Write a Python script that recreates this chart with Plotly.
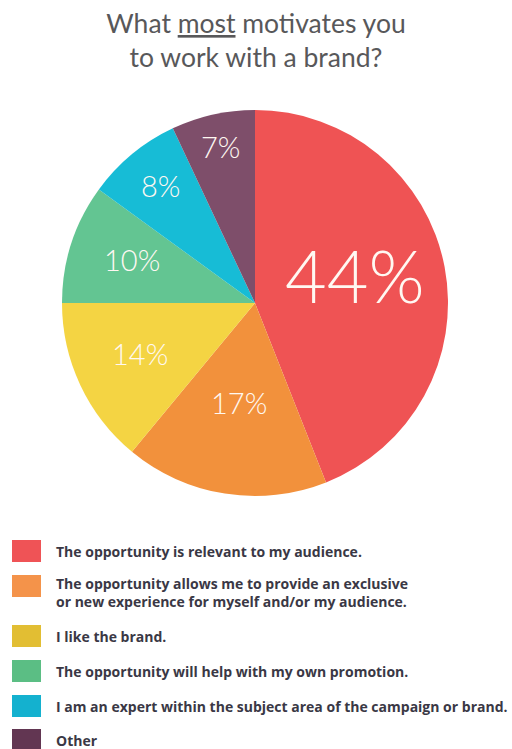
import math
import plotly.graph_objects as go

# Survey answers and their shares (%)
answers = [
    "The opportunity is relevant to my audience.",
    "The opportunity allows me to provide an exclusive<br>or new experience for myself and/or my audience.",
    "I like the brand.",
    "The opportunity will help with my own promotion.",
    "I am an expert within the subject area of the campaign or brand.",
    "Other",
]
shares = [44, 17, 14, 10, 8, 7]

slice_colors = ["#EF5354", "#F2913C", "#F4D443", "#63C592", "#17BCD6", "#7E4E6A"]
legend_colors = ["#EF5356", "#F4934A", "#E2BE33", "#5BBE84", "#14B1CF", "#623652"]
label_sizes = [72, 29, 29, 29, 29, 29]
label_radius = [0.53, 0.54, 0.66, 0.67, 0.77, 0.81]  # fraction of pie radius

W, H = 512, 749
cx, cy, r = 255, 303, 193

fig = go.Figure(
    go.Pie(
        labels=answers,
        values=shares,
        sort=False,
        direction="clockwise",
        rotation=0,
        marker=dict(colors=slice_colors, line=dict(width=0)),
        textinfo="none",
        hoverinfo="label+percent",
        showlegend=False,
        domain=dict(x=[(cx - r) / W, (cx + r) / W], y=[1 - (cy + r) / H, 1 - (cy - r) / H]),
    )
)

annotations = []

# Percentage labels placed along each slice's bisector
total = sum(shares)
start = 0.0
for v, fs, fr in zip(shares, label_sizes, label_radius):
    mid = math.radians((start + v / 2) / total * 360)
    start += v
    px = cx + fr * r * math.sin(mid)
    py = cy - fr * r * math.cos(mid)
    annotations.append(dict(
        text=f"{v}%", xref="paper", yref="paper",
        x=px / W, y=1 - py / H, xanchor="center", yanchor="middle",
        yshift=0.12 * fs, showarrow=False,
        font=dict(family="Lato", size=fs, color="#FFF8F2", weight=300),
    ))

# Custom legend: coloured squares with bold captions
row_centers = [551, 586, 636, 671, 706, 740]
sq_left, sq_right, sq_half = 12, 41, 11
shapes = []
for i, (txt, col) in enumerate(zip(answers, legend_colors)):
    yc = row_centers[i]
    shapes.append(dict(
        type="rect", xref="paper", yref="paper",
        x0=sq_left / W, x1=sq_right / W,
        y0=1 - (yc + sq_half) / H, y1=1 - (yc - sq_half) / H,
        fillcolor=col, line=dict(width=0),
    ))
    nlines = txt.count("<br>") + 1
    ty = yc + (6 if nlines > 1 else 0)
    annotations.append(dict(
        text=f"<b>{txt}</b>", xref="paper", yref="paper",
        x=54 / W, y=1 - ty / H, xanchor="left", yanchor="middle",
        align="left", showarrow=False,
        font=dict(family="Open Sans", size=14, color="#3A3845"),
    ))

fig.update_layout(
    width=W, height=H,
    margin=dict(l=0, r=0, t=0, b=0),
    paper_bgcolor="white", plot_bgcolor="white",
    title=dict(
        text="What <u>most</u> motivates you<br>to work with a brand?",
        x=0.5, xanchor="center", xref="paper",
        y=1 - 33 / H, yanchor="middle", yref="container",
        font=dict(family="Lato", size=26.5, color="#58585A"),
    ),
    shapes=shapes,
    annotations=annotations,
)

fig.write_html("out.html")
